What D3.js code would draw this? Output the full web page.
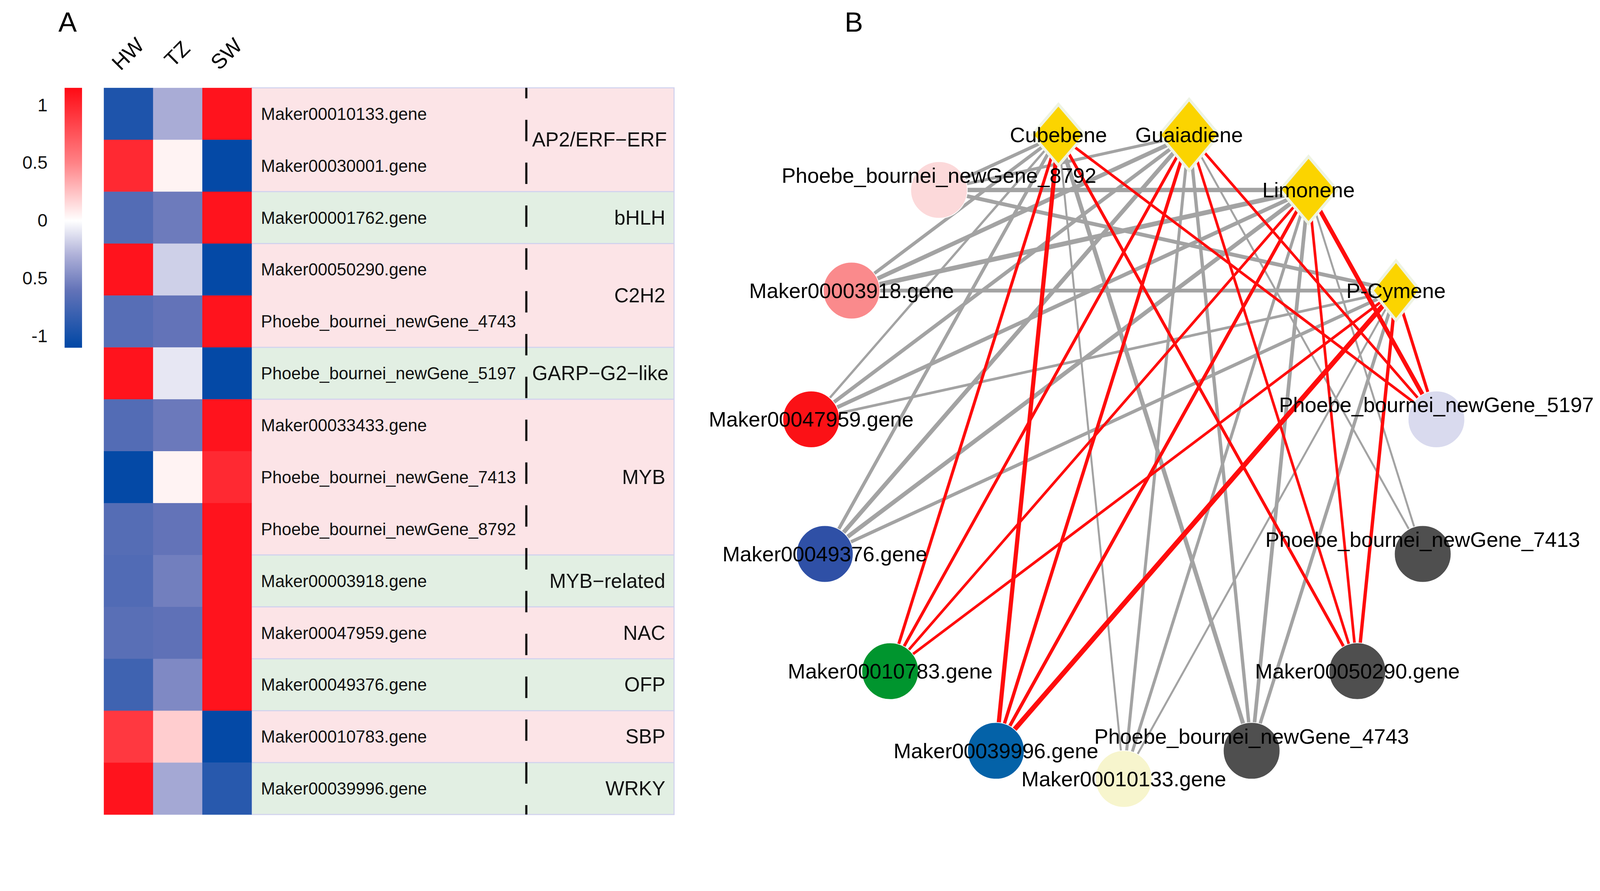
<!DOCTYPE html>
<html>
<head>
<meta charset="utf-8">
<script src="https://cdn.jsdelivr.net/npm/d3@7"></script>
<style>
  html, body { margin: 0; padding: 0; background: #fff; overflow: hidden; }
  #chart svg { display: block; width: 100vw; height: 100vh; }
</style>
</head>
<body>
<div id="chart"></div>
<script>
// ---- panel A data ----
const samples = ['HW', 'TZ', 'SW'];
const genes = [
  'Maker00010133.gene', 'Maker00030001.gene', 'Maker00001762.gene',
  'Maker00050290.gene', 'Phoebe_bournei_newGene_4743', 'Phoebe_bournei_newGene_5197',
  'Maker00033433.gene', 'Phoebe_bournei_newGene_7413', 'Phoebe_bournei_newGene_8792',
  'Maker00003918.gene', 'Maker00047959.gene', 'Maker00049376.gene',
  'Maker00010783.gene', 'Maker00039996.gene'
];
// scaled expression, one row per gene: HW, TZ, SW
const expression = [
  [-0.95, -0.32, 1.1],
  [0.98, 0.05, -1.08],
  [-0.68, -0.56, 1.1],
  [1.1, -0.18, -1.08],
  [-0.66, -0.6, 1.1],
  [1.1, -0.09, -1.08],
  [-0.68, -0.57, 1.1],
  [-1.08, 0.05, 0.98],
  [-0.67, -0.6, 1.1],
  [-0.69, -0.54, 1.1],
  [-0.65, -0.62, 1.1],
  [-0.78, -0.49, 1.1],
  [0.9, 0.2, -1.08],
  [1.1, -0.34, -0.9]
];
const families = ['AP2/ERF\u2212ERF', 'bHLH', 'C2H2', 'GARP\u2212G2\u2212like', 'MYB',
  'MYB\u2212related', 'NAC', 'OFP', 'SBP', 'WRKY'];
const familySizes = [2, 1, 2, 1, 3, 1, 1, 1, 1, 1];
const legendTicks = [1, 0.5, 0, -0.5, -1];
const legendLabels = ['1', '0.5', '0', '0.5', '-1'];

// ---- panel B data ----
const metabolites = ['Cubebene', 'Guaiadiene', 'Limonene', 'P-Cymene'];
const netGenes = [
  'Phoebe_bournei_newGene_5197', 'Phoebe_bournei_newGene_7413', 'Maker00050290.gene',
  'Phoebe_bournei_newGene_4743', 'Maker00010133.gene', 'Maker00039996.gene',
  'Maker00010783.gene', 'Maker00049376.gene', 'Maker00047959.gene',
  'Maker00003918.gene', 'Phoebe_bournei_newGene_8792'
];
// correlation edges: gene, metabolite, r
const links = [
  ['Phoebe_bournei_newGene_8792', 'Cubebene', -0.90], ['Phoebe_bournei_newGene_8792', 'Guaiadiene', -0.88],
  ['Phoebe_bournei_newGene_8792', 'Limonene', -0.96], ['Phoebe_bournei_newGene_8792', 'P-Cymene', -0.93],
  ['Maker00003918.gene', 'Cubebene', -0.90], ['Maker00003918.gene', 'Guaiadiene', -0.95],
  ['Maker00003918.gene', 'Limonene', -0.98], ['Maker00003918.gene', 'P-Cymene', -0.93],
  ['Maker00047959.gene', 'Cubebene', -0.84], ['Maker00047959.gene', 'Guaiadiene', -0.92],
  ['Maker00047959.gene', 'Limonene', -0.93], ['Maker00047959.gene', 'P-Cymene', -0.86],
  ['Maker00049376.gene', 'Cubebene', -0.90], ['Maker00049376.gene', 'Guaiadiene', -0.95],
  ['Maker00049376.gene', 'Limonene', -0.95], ['Maker00049376.gene', 'P-Cymene', -0.90],
  ['Maker00010133.gene', 'Cubebene', -0.82], ['Maker00010133.gene', 'Guaiadiene', -0.88],
  ['Maker00010133.gene', 'Limonene', -0.88], ['Maker00010133.gene', 'P-Cymene', -0.82],
  ['Phoebe_bournei_newGene_4743', 'Cubebene', -0.95], ['Phoebe_bournei_newGene_4743', 'Guaiadiene', -0.90],
  ['Phoebe_bournei_newGene_4743', 'Limonene', -0.92], ['Phoebe_bournei_newGene_4743', 'P-Cymene', -0.90],
  ['Phoebe_bournei_newGene_7413', 'Guaiadiene', -0.82], ['Phoebe_bournei_newGene_7413', 'Limonene', -0.82],
  ['Maker00039996.gene', 'Cubebene', 0.95], ['Maker00039996.gene', 'Guaiadiene', 0.90],
  ['Maker00039996.gene', 'Limonene', 0.90], ['Maker00039996.gene', 'P-Cymene', 0.99],
  ['Maker00010783.gene', 'Cubebene', 0.88], ['Maker00010783.gene', 'Guaiadiene', 0.88],
  ['Maker00010783.gene', 'Limonene', 0.86], ['Maker00010783.gene', 'P-Cymene', 0.86],
  ['Maker00050290.gene', 'Cubebene', 0.88], ['Maker00050290.gene', 'Guaiadiene', 0.86],
  ['Maker00050290.gene', 'Limonene', 0.86], ['Maker00050290.gene', 'P-Cymene', 0.90],
  ['Phoebe_bournei_newGene_5197', 'Cubebene', 0.86], ['Phoebe_bournei_newGene_5197', 'Guaiadiene', 0.86],
  ['Phoebe_bournei_newGene_5197', 'Limonene', 0.95], ['Phoebe_bournei_newGene_5197', 'P-Cymene', 0.88]
];

// node fills (style)
const geneFill = {
  'Phoebe_bournei_newGene_5197': '#d9daee', 'Phoebe_bournei_newGene_7413': '#4f4f4f',
  'Maker00050290.gene': '#4f4f4f', 'Phoebe_bournei_newGene_4743': '#4f4f4f',
  'Maker00010133.gene': '#f7f5cd', 'Maker00039996.gene': '#0462a8',
  'Maker00010783.gene': '#00952e', 'Maker00049376.gene': '#2f50a6',
  'Maker00047959.gene': '#fb1116', 'Maker00003918.gene': '#fa8a8c',
  'Phoebe_bournei_newGene_8792': '#fcd9da'
};
const diamondSize = { 'Cubebene': [72, 84], 'Guaiadiene': [82, 98], 'Limonene': [78, 92], 'P-Cymene': [66, 82] };

const W = 4408, H = 2281;
const FONT = '"Liberation Sans", Arial, sans-serif';

const svg = d3.select('#chart').append('svg')
  .attr('viewBox', `0 0 ${W} ${H}`)
  .attr('preserveAspectRatio', 'xMidYMin meet')
  .style('font-family', FONT);

// ============ panel A ============
const x = d3.scaleBand().domain(samples).range([286, 693]);
const y = d3.scaleBand().domain(genes).range([242, 2244]);
const color = d3.scaleLinear()
  .domain([-1.1, -0.6, -0.3, 0, 0.5, 1.15])
  .range(['#0047a5', '#6373b8', '#aeb0d8', '#ffffff', '#ff8286', '#ff0a14'])
  .clamp(true);

svg.append('text')
  .attr('x', 161).attr('y', 87)
  .style('font-size', '76px')
  .text('A');

// family bands
let start = 0;
const groups = families.map((name, i) => {
  const g = { name, start, size: familySizes[i], i };
  start += familySizes[i];
  return g;
});

const bandX0 = 693, bandX1 = 1857;
svg.append('g').selectAll('rect')
  .data(groups)
  .join('rect')
  .attr('x', bandX0)
  .attr('y', d => y(genes[d.start]))
  .attr('width', bandX1 - bandX0)
  .attr('height', d => d.size * y.step())
  .attr('fill', d => d.i % 2 ? '#e2efe3' : '#fce4e7')
  .attr('stroke', '#d2d3ee')
  .attr('stroke-width', 3);

// heatmap cells
const cells = genes.flatMap((g, i) => samples.map((s, j) => ({ g, s, v: expression[i][j] })));
svg.append('g').selectAll('rect')
  .data(cells)
  .join('rect')
  .attr('x', d => x(d.s))
  .attr('y', d => y(d.g))
  .attr('width', x.bandwidth() + 0.6)
  .attr('height', y.bandwidth() + 0.6)
  .attr('fill', d => color(d.v));

// column headers
svg.append('g').selectAll('text')
  .data(samples)
  .join('text')
  .attr('transform', d => `translate(${x(d) + x.bandwidth() / 2 - 2},148) rotate(-45)`)
  .attr('text-anchor', 'middle')
  .attr('dominant-baseline', 'central')
  .style('font-size', '58px')
  .text(d => d);

// gene labels
svg.append('g').selectAll('text')
  .data(genes)
  .join('text')
  .attr('x', 719)
  .attr('y', d => y(d) + y.bandwidth() / 2)
  .attr('dominant-baseline', 'central')
  .style('font-size', '47px')
  .style('fill', '#111')
  .text(d => d);

// dashed separator
svg.append('line')
  .attr('x1', 1450).attr('x2', 1450)
  .attr('y1', 242).attr('y2', 2244)
  .attr('stroke', '#111')
  .attr('stroke-width', 6)
  .attr('stroke-dasharray', '59 59')
  .attr('stroke-dashoffset', 30);

// family labels, right aligned but never crossing the dashed line
svg.append('g').selectAll('text')
  .data(groups)
  .join('text')
  .attr('y', d => y(genes[d.start]) + d.size * y.step() / 2)
  .attr('text-anchor', 'end')
  .attr('dominant-baseline', 'central')
  .style('font-size', '55px')
  .style('fill', '#111')
  .text(d => d.name)
  .attr('x', function () {
    const w = this.getComputedTextLength();
    return Math.max(1833, 1466 + w);
  });

// colour legend
const legY = d3.scaleLinear().domain([-1.1, 1.15]).range([958, 242]);
const defs = svg.append('defs');
const grad = defs.append('linearGradient')
  .attr('id', 'legend-grad')
  .attr('x1', 0).attr('y1', 1).attr('x2', 0).attr('y2', 0);
grad.selectAll('stop')
  .data(color.domain())
  .join('stop')
  .attr('offset', d => (d + 1.1) / 2.25)
  .attr('stop-color', d => color(d));

svg.append('rect')
  .attr('x', 178).attr('y', 242)
  .attr('width', 48).attr('height', 716)
  .attr('fill', 'url(#legend-grad)');

const legAxis = svg.append('g')
  .attr('transform', 'translate(178,0)')
  .call(d3.axisLeft(legY)
    .tickValues(legendTicks)
    .tickFormat((d, i) => legendLabels[i])
    .tickSize(0)
    .tickPadding(47));
legAxis.select('.domain').remove();
legAxis.selectAll('text')
  .style('font-size', '50px')
  .style('font-family', FONT)
  .style('fill', '#111');

// ============ panel B ============
svg.append('text')
  .attr('x', 2327).attr('y', 87)
  .style('font-size', '76px')
  .text('B');

// circular (elliptical) layout, metabolites first then genes, clockwise
const ring = metabolites.concat(netGenes);
const angle = d3.scaleLinear().domain([0, ring.length]).range([-12, 348]);
const cx = 3096, cy = 1249, rx = 866, ry = 897;
const pos = {};
ring.forEach((name, i) => {
  const a = angle(i) * Math.PI / 180;
  pos[name] = [cx + rx * Math.sin(a), cy - ry * Math.cos(a)];
});

const width = d3.scaleLinear().domain([0.8, 1]).range([4.5, 14]);

svg.append('g').selectAll('line')
  .data(links)
  .join('line')
  .attr('x1', d => pos[d[0]][0])
  .attr('y1', d => pos[d[0]][1])
  .attr('x2', d => pos[d[1]][0])
  .attr('y2', d => pos[d[1]][1])
  .attr('stroke', d => d[2] > 0 ? '#ff0c0c' : '#a3a3a3')
  .attr('stroke-width', d => width(Math.abs(d[2])));

// gene nodes
svg.append('g').selectAll('circle')
  .data(netGenes)
  .join('circle')
  .attr('cx', d => pos[d][0])
  .attr('cy', d => pos[d][1])
  .attr('r', 78)
  .attr('fill', d => geneFill[d])
  .attr('stroke', '#ffffff')
  .attr('stroke-width', 2);

// metabolite nodes
svg.append('g').selectAll('path')
  .data(metabolites)
  .join('path')
  .attr('transform', d => `translate(${pos[d][0]},${pos[d][1]})`)
  .attr('d', d => {
    const [w, h] = diamondSize[d];
    return `M0,${-h}L${w},0L0,${h}L${-w},0Z`;
  })
  .attr('fill', '#fbd400')
  .attr('stroke', '#eef3e3')
  .attr('stroke-width', 8);

// labels
svg.append('g').selectAll('text')
  .data(ring)
  .join('text')
  .attr('x', d => pos[d][0])
  .attr('y', d => pos[d][1] + (d.startsWith('Phoebe') ? -40 : 0))
  .attr('text-anchor', 'middle')
  .attr('dominant-baseline', 'central')
  .style('font-size', '58px')
  .style('fill', '#000')
  .text(d => d);
</script>
</body>
</html>
